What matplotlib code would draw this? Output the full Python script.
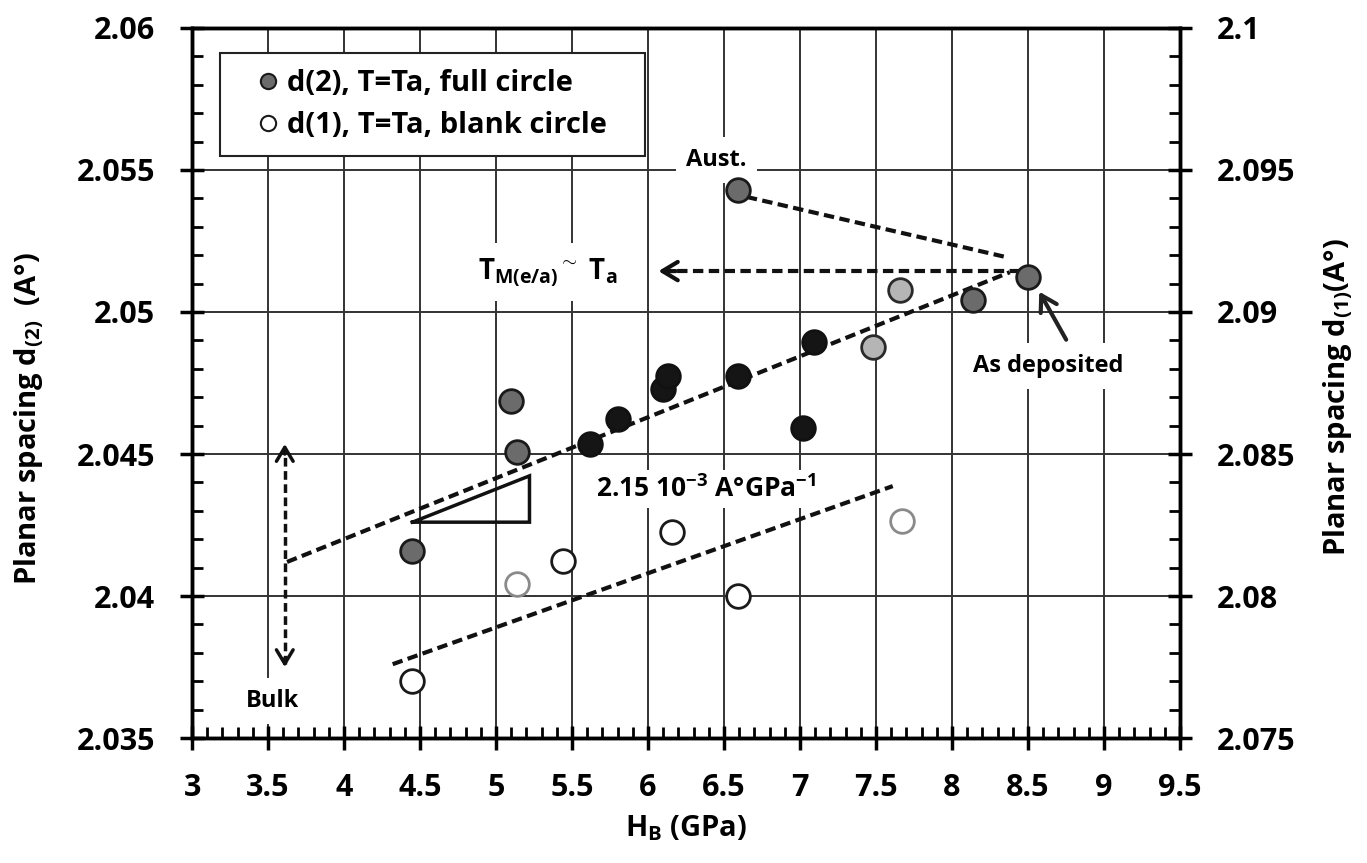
import numpy as np
import matplotlib.pyplot as plt
from matplotlib.ticker import MultipleLocator, FormatStrFormatter
from matplotlib.lines import Line2D

plt.rcParams['font.family'] = ['Open Sans', 'DejaVu Sans']
plt.rcParams['font.weight'] = 'bold'
plt.rcParams['axes.labelweight'] = 'bold'
plt.rcParams['mathtext.fontset'] = 'custom'
plt.rcParams['mathtext.rm'] = 'Open Sans:bold'
plt.rcParams['mathtext.it'] = 'Open Sans:bold'
plt.rcParams['mathtext.bf'] = 'Open Sans:bold'

# d(2), full circles (left axis)
d2_grey_x = [4.45, 5.10, 5.14, 6.59, 8.14, 8.50]
d2_grey_y = [2.04158, 2.04687, 2.04507, 2.05430, 2.05042, 2.05123]
d2_dark_x = [5.62, 5.80, 6.10, 6.13, 6.59, 7.02, 7.09]
d2_dark_y = [2.04535, 2.04623, 2.04729, 2.04775, 2.04775, 2.04592, 2.04894]
d2_light_x = [7.48, 7.66]
d2_light_y = [2.04877, 2.05077]

# d(1), blank circles (right axis)
d1_x = [4.45, 5.44, 6.16, 6.59]
d1_y = [2.0770, 2.08124, 2.08225, 2.0800]
d1_faint_x = [5.14, 7.67]
d1_faint_y = [2.08042, 2.08264]

# guide lines
upper_fit_x = [3.625, 8.38]
upper_fit_y = [2.0412, 2.0514]
lower_fit_x = [4.32, 7.61]
lower_fit_y = [2.0376, 2.04387]
aust_x = [6.65, 8.35]
aust_y = [2.05405, 2.05194]
tri_x = [4.45, 5.22, 5.22, 4.45]
tri_y = [2.0426, 2.0426, 2.04423, 2.0426]

fig = plt.figure(figsize=(13.67, 8.63), dpi=100)
ax = fig.add_axes([0.1405, 0.1448, 0.7227, 0.8228])
ax2 = ax.twinx()

ax.set_xlim(3, 9.5)
ax.set_ylim(2.035, 2.06)
ax2.set_ylim(2.075, 2.1)
ax.xaxis.set_major_locator(MultipleLocator(0.5))
ax.xaxis.set_minor_locator(MultipleLocator(0.1))
for a in (ax, ax2):
    a.yaxis.set_major_locator(MultipleLocator(0.005))
    a.yaxis.set_minor_locator(MultipleLocator(0.001))
    a.yaxis.set_major_formatter(FormatStrFormatter('%g'))
    for s in a.spines.values():
        s.set_linewidth(2.5)
ax.xaxis.set_major_formatter(FormatStrFormatter('%g'))

ax.tick_params(which='major', direction='inout', length=17, width=2.5, labelsize=22, pad=18)
ax.tick_params(which='minor', direction='in', length=8, width=2)
ax.tick_params(axis='x', which='major', pad=17)
ax2.tick_params(which='major', direction='inout', length=17, width=2.5, labelsize=22, pad=18)
ax2.tick_params(which='minor', direction='in', length=8, width=2)

ax.grid(which='major', color='#333333', lw=1.4)

dash = (2.5, 1.3)
ax.plot(upper_fit_x, upper_fit_y, color='#111111', lw=3, dashes=dash, zorder=3)
ax.plot(lower_fit_x, lower_fit_y, color='#111111', lw=3, dashes=dash, zorder=3)
ax.plot(aust_x, aust_y, color='#111111', lw=3, dashes=dash, zorder=3)
ax.plot(tri_x, tri_y, color='#111111', lw=2.5, zorder=3, solid_joinstyle='miter')

# horizontal arrow T_M ~ T_a
ax.plot([8.45, 6.1], [2.05144, 2.05144], color='#111111', lw=3, dashes=dash, zorder=3)
ax.annotate('', xy=(6.05, 2.05144), xytext=(6.2, 2.05144),
            arrowprops=dict(arrowstyle='->,head_length=0.5,head_width=0.3', lw=3,
                            color='#111111', mutation_scale=22), zorder=3)
# bulk double arrow
ax.plot([3.61, 3.61], [2.0376, 2.0452], color='#111111', lw=2.5, dashes=dash, zorder=3)
ax.annotate('', xy=(3.61, 2.04545), xytext=(3.61, 2.0449),
            arrowprops=dict(arrowstyle='->,head_length=0.5,head_width=0.3', lw=2.5,
                            color='#111111', mutation_scale=20), zorder=3)
ax.annotate('', xy=(3.61, 2.0374), xytext=(3.61, 2.0379),
            arrowprops=dict(arrowstyle='->,head_length=0.5,head_width=0.3', lw=2.5,
                            color='#111111', mutation_scale=20), zorder=3)

ms = 290
ax.scatter(d2_grey_x, d2_grey_y, s=ms, c='#6b6b6b', edgecolors='#1a1a1a', linewidths=2, zorder=5)
ax.scatter(d2_dark_x, d2_dark_y, s=ms, c='#151515', edgecolors='#111111', linewidths=2, zorder=5)
ax.scatter(d2_light_x, d2_light_y, s=ms, c='#b5b5b5', edgecolors='#2a2a2a', linewidths=2, zorder=5)
ax2.scatter(d1_x, d1_y, s=ms, c='white', edgecolors='#1a1a1a', linewidths=2, zorder=5)
ax2.scatter(d1_faint_x, d1_faint_y, s=ms, c='white', edgecolors='#8a8a8a', linewidths=2, zorder=5)

box = dict(facecolor='white', edgecolor='none', boxstyle='square,pad=0.45')
ax.text(6.45, 2.05535, 'Aust.', fontsize=17, ha='center', va='center', bbox=box, zorder=4)
ax.text(8.63, 2.0481, 'As deposited', fontsize=17, ha='center', va='center', bbox=box, zorder=4)
ax.text(3.53, 2.0363, 'Bulk', fontsize=17, ha='center', va='center', bbox=box, zorder=4)
ax.text(5.8, 2.0514, r'T$_{\mathrm{M(e/a)}}$$^{\sim}$ T$_{\mathrm{a}}$', fontsize=20,
        ha='right', va='center', bbox=box, zorder=4)
ax.text(5.66, 2.04377, r'2.15 10$^{\mathrm{-3}}$ A°GPa$^{\mathrm{-1}}$', fontsize=19,
        ha='left', va='center', bbox=dict(facecolor='white', edgecolor='none', boxstyle='square,pad=0.2'),
        zorder=4)
ax.annotate('', xy=(8.565, 2.0508), xytext=(8.76, 2.04894),
            arrowprops=dict(arrowstyle='->,head_length=0.5,head_width=0.3', lw=3,
                            color='#222222', mutation_scale=22), zorder=6)

ax.set_xlabel(r'H$_{\mathrm{B}}$ (GPa)', fontsize=21, labelpad=7)
ax.set_ylabel(r'Planar spacing d$_{\mathrm{(2)}}$  (A°)', fontsize=21)
ax2.set_ylabel(r'Planar spacing d$_{\mathrm{(1)}}$(A°)', fontsize=21)
ax.yaxis.set_label_coords(-0.148, 0.45)
ax2.yaxis.set_label_coords(1.143, 0.48)

handles = [Line2D([], [], marker='o', ls='none', markersize=11, markerfacecolor='#6b6b6b',
                  markeredgecolor='#1a1a1a', markeredgewidth=1.5),
           Line2D([], [], marker='o', ls='none', markersize=11, markerfacecolor='white',
                  markeredgecolor='#1a1a1a', markeredgewidth=1.5)]
leg = ax2.legend(handles, ['d(2), T=Ta, full circle', 'd(1), T=Ta, blank circle'],
                 loc='upper left', bbox_to_anchor=(0.028, 0.8, 0.43, 0.165), mode='expand',
                 borderaxespad=0, fontsize=21, fancybox=False, framealpha=1, edgecolor='#222222',
                 handlelength=2.2, handletextpad=-0.45, labelspacing=0.45, borderpad=0.55)
leg.get_frame().set_linewidth(1.5)

fig.savefig('out.png', dpi=100, facecolor='white')
